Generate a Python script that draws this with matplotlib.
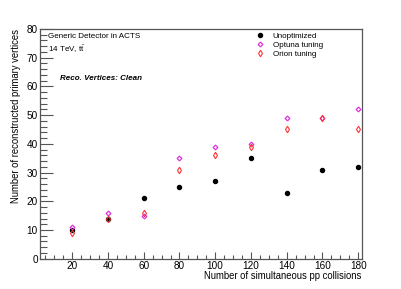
import matplotlib
matplotlib.use("Agg")
import matplotlib.pyplot as plt
from matplotlib.ticker import MultipleLocator

plt.rcParams['font.family'] = ['Liberation Sans', 'DejaVu Sans']
plt.rcParams['mathtext.fontset'] = 'custom'
plt.rcParams['mathtext.rm'] = 'Liberation Sans'
plt.rcParams['mathtext.it'] = 'Liberation Sans:italic'

pileup = [20, 40, 60, 80, 100, 120, 140, 160, 180]
unoptimized = [10, 14, 21, 25, 27, 35, 23, 31, 32]
optuna = [11, 16, 15, 35, 39, 40, 49, 49, 52]
orion = [9, 14, 16, 31, 36, 39, 45, 49, 45]

fig = plt.figure(figsize=(4.02, 2.89), dpi=100)
ax = fig.add_axes([0.0995, 0.1048, 0.8005, 0.795])

ax.plot(pileup, unoptimized, linestyle='none', marker='o', markersize=2.9,
        color='black', label='Unoptimized')
ax.plot(pileup, optuna, linestyle='none', marker='D', markersize=2.4,
        markerfacecolor='none', markeredgecolor='#dd33dd', markeredgewidth=0.9,
        label='Optuna tuning')
ax.plot(pileup, orion, linestyle='none', marker='d', markersize=3.3,
        markerfacecolor='none', markeredgecolor='#ff3333', markeredgewidth=0.8,
        label='Orion tuning')

ax.set_xlim(2, 182)
ax.set_ylim(0, 80)
ax.xaxis.set_major_locator(MultipleLocator(20))
ax.xaxis.set_minor_locator(MultipleLocator(5))
ax.yaxis.set_major_locator(MultipleLocator(10))
ax.yaxis.set_minor_locator(MultipleLocator(2))
ax.set_xticks([20, 40, 60, 80, 100, 120, 140, 160, 180])

ax.tick_params(axis='both', which='both', direction='in', top=False, right=False,
               labelsize=7.2, colors='#555555', labelcolor='black', width=0.8)
ax.tick_params(axis='y', which='major', length=9, pad=1.5)
ax.tick_params(axis='y', which='minor', length=5)
ax.tick_params(axis='x', which='major', length=5, pad=1.5)
ax.tick_params(axis='x', which='minor', length=3)
for s in ax.spines.values():
    s.set_color('#555555')
    s.set_linewidth(0.9)

ax.set_xlabel('Number of simultaneous pp collisions', fontsize=6.85, loc='right', labelpad=0)
ax.set_ylabel('Number of reconstructed primary vertices', fontsize=6.85, loc='top', labelpad=4)

ax.text(0.025, 0.965, 'Generic Detector in ACTS', transform=ax.transAxes,
        fontsize=5.8, va='center', ha='left')
ax.text(0.025, 0.912, r'14 TeV, $\mathrm{t\bar{t}}$', transform=ax.transAxes,
        fontsize=5.8, va='center', ha='left')
ax.text(0.062, 0.785, 'Reco. Vertices: Clean', transform=ax.transAxes,
        fontsize=5.8, va='center', ha='left', fontweight='bold', fontstyle='italic')

leg = ax.legend(loc='upper left', bbox_to_anchor=(0.661, 1.0), frameon=False,
                fontsize=5.8, handlelength=1.0, handletextpad=1.1,
                labelspacing=0.15, borderaxespad=0.0)

fig.savefig('out.png', dpi=100)
